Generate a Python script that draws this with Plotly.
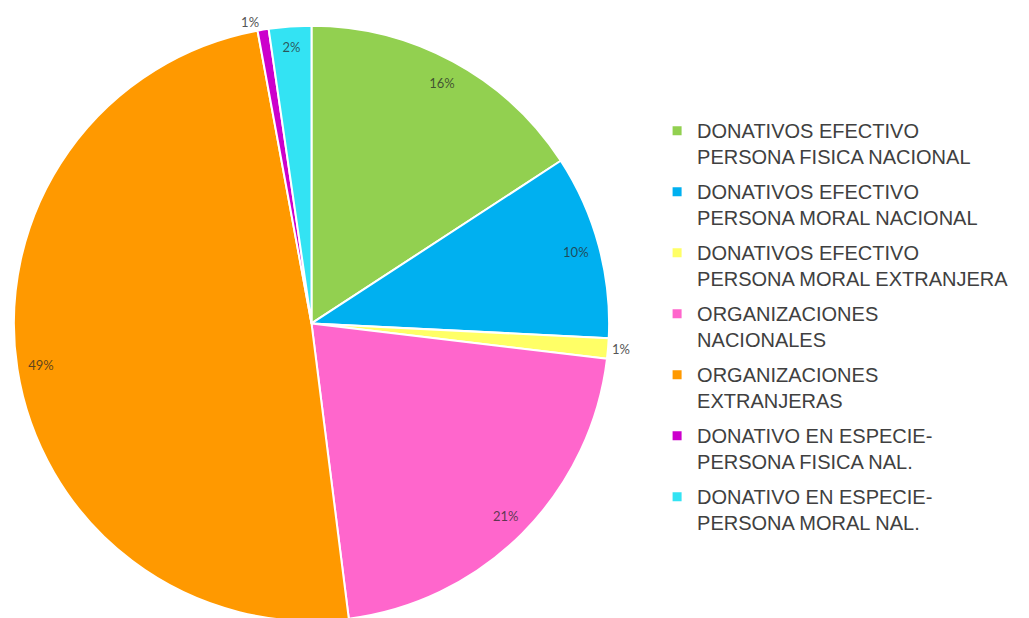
import plotly.graph_objects as go

labels = [
    "DONATIVOS EFECTIVO<br>PERSONA FISICA NACIONAL",
    "DONATIVOS EFECTIVO<br>PERSONA MORAL NACIONAL",
    "DONATIVOS EFECTIVO<br>PERSONA MORAL EXTRANJERA",
    "ORGANIZACIONES<br>NACIONALES",
    "ORGANIZACIONES<br>EXTRANJERAS",
    "DONATIVO EN ESPECIE-<br>PERSONA FISICA NAL.",
    "DONATIVO EN ESPECIE-<br>PERSONA MORAL NAL.",
]
values = [15.8, 10.0, 1.1, 21.1, 49.1, 0.6, 2.3]
colors = ["#92D050", "#00B0F0", "#FFFF66", "#FF66CC", "#FF9900", "#CC00CC", "#33E3F3"]
text_pos = ["inside", "inside", "outside", "inside", "inside", "outside", "inside"]

dom_x = [0.0, 0.583]
dom_y = [0.0, 0.971]

fig = go.Figure()
fig.add_trace(go.Pie(
    labels=labels, values=values, sort=False, direction="clockwise", rotation=0,
    marker=dict(colors=colors, line=dict(color="white", width=2)),
    textinfo="none", hoverinfo="label+percent",
    domain=dict(x=dom_x, y=dom_y), showlegend=False,
))
fig.add_trace(go.Pie(
    labels=labels, values=values, sort=False, direction="clockwise", rotation=0,
    hole=0.84,
    marker=dict(colors=["rgba(0,0,0,0)"] * len(values), line=dict(width=0)),
    texttemplate="%{percent:.0%}", textposition=text_pos,
    insidetextorientation="horizontal",
    textfont=dict(family="Lato", size=13, color="rgba(40,40,40,0.75)"),
    outsidetextfont=dict(family="Lato", size=13, color="#555555"),
    hoverinfo="skip", showlegend=False,
    domain=dict(x=dom_x, y=dom_y),
))
# legend entries (one per slice)
for i, (lab, col) in enumerate(zip(labels, colors)):
    fig.add_trace(go.Scatter(
        x=[None], y=[None], mode="markers", name=lab,
        marker=dict(symbol="square", size=9, color=col),
        legendgroup=f"g{i}", showlegend=True, hoverinfo="skip",
    ))
fig.update_layout(
    width=1029, height=618,
    margin=dict(l=0, r=0, t=0, b=0),
    paper_bgcolor="white", plot_bgcolor="white",
    font=dict(family="Liberation Sans", color="#404040"),
    xaxis=dict(visible=False), yaxis=dict(visible=False),
    legend=dict(
        x=0.629, y=1 - 104 / 618, xanchor="left", yanchor="top",
        font=dict(family="Liberation Sans", size=20, color="#404040"),
        itemwidth=30, valign="top", tracegroupgap=6,
    ),
)
fig.write_html("out.html")
